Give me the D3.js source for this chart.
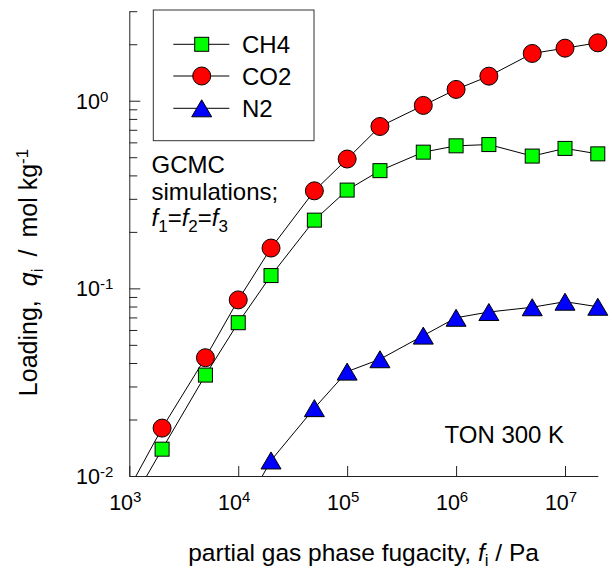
<!DOCTYPE html>
<html>
<head>
<meta charset="utf-8">
<script src="https://cdn.jsdelivr.net/npm/d3@7"></script>
<style>
  body { margin: 0; background: #fff; }
  text { font-family: "Liberation Sans", Arial, sans-serif; fill: #000; }
</style>
</head>
<body>
<div id="container"></div>
<script>
/* CONSTANTS AND GLOBALS */
const width = 612,
    height = 571

// DATA
const fugacity = [2e3, 5e3, 1e4, 2e4, 5e4, 1e5, 2e5, 5e5, 1e6, 2e6, 5e6, 1e7, 2e7]
const ch4 = [0.0139, 0.0345, 0.0656, 0.117, 0.231, 0.334, 0.424, 0.532, 0.575, 0.584, 0.507, 0.557, 0.521]
const co2 = [0.0180, 0.0427, 0.0868, 0.164, 0.331, 0.489, 0.729, 0.944, 1.149, 1.352, 1.786, 1.906, 2.035]
const fugacityN2 = [2e4, 5e4, 1e5, 2e5, 5e5, 1e6, 2e6, 5e6, 1e7, 2e7]
const n2 = [0.0121, 0.0230, 0.0360, 0.0419, 0.0560, 0.0697, 0.0748, 0.0793, 0.0849, 0.0798]
// where each curve leaves the bottom axis
const ch4Start = [1445, 0.01]
const co2Start = [1152, 0.01]
const n2Start = [16640, 0.01]

const xTicks = [1e3, 1e4, 1e5, 1e6, 1e7]
const xTickExp = ["3", "4", "5", "6", "7"]
const yTicks = [0.01, 0.1, 1]
const yTickExp = ["-2", "-1", "0"]
const yMinor = [0.02, 0.03, 0.04, 0.05, 0.06, 0.07, 0.08, 0.09, 0.2, 0.3, 0.4, 0.5, 0.6, 0.7, 0.8, 0.9, 2, 3]
const legendNames = ["CH4", "CO2", "N2"]

//SCALE
const xScale = d3.scaleLog()
    .domain([1e3, 2e7])
    .range([129.3, 597.8])

const yScale = d3.scaleLog()
    .domain([0.01, 3])
    .range([476, 11.2])

//SVG
const svg = d3.select("#container")
    .append("svg")
    .attr("width", width)
    .attr("height", height)

svg.append("clipPath")
    .attr("id", "plot-clip")
    .append("rect")
    .attr("x", xScale.range()[0])
    .attr("y", yScale.range()[1])
    .attr("width", xScale.range()[1] - xScale.range()[0])
    .attr("height", yScale.range()[0] - yScale.range()[1])

// AXES
const xAxis = d3.axisBottom(xScale)
    .tickValues(xTicks)
    .tickSizeInner(-10)
    .tickSizeOuter(0)
    .tickFormat("")

const yAxis = d3.axisLeft(yScale)
    .tickValues(yTicks)
    .tickSizeInner(-11)
    .tickSizeOuter(0)
    .tickFormat("")

const yAxisMinor = d3.axisLeft(yScale)
    .tickValues(yMinor)
    .tickSizeInner(-8)
    .tickSizeOuter(0)
    .tickFormat("")

svg.append("g")
    .attr("class", "axis")
    .attr("transform", "translate(0," + yScale.range()[0] + ")")
    .call(xAxis)

svg.append("g")
    .attr("class", "axis")
    .attr("transform", "translate(" + xScale.range()[0] + ",0)")
    .call(yAxis)

svg.append("g")
    .attr("class", "axis")
    .attr("transform", "translate(" + xScale.range()[0] + ",0)")
    .call(yAxisMinor)
    .select(".domain").remove()

svg.selectAll(".axis path, .axis line")
    .attr("stroke", "#222")
    .attr("stroke-width", 1)

// tick labels as 10^n
const xLab = svg.append("g")
    .selectAll("text")
    .data(xTicks)
    .join("text")
    .attr("x", d => xScale(d) - 4)
    .attr("y", 510)
    .attr("text-anchor", "middle")
    .style("font-size", "21.5px")
    .text("10")
xLab.append("tspan")
    .attr("dy", -8)
    .style("font-size", "15px")
    .text((d, i) => xTickExp[i])

const yLab = svg.append("g")
    .selectAll("text")
    .data(yTicks)
    .join("text")
    .attr("x", 76)
    .attr("y", d => yScale(d) + 8)
    .style("font-size", "21.5px")
    .text("10")
yLab.append("tspan")
    .attr("dy", -7)
    .style("font-size", "15px")
    .text((d, i) => yTickExp[i])

// LINES
const line = d3.line()
    .x(d => xScale(d[0]))
    .y(d => yScale(d[1]))

const series = [
    { name: "CH4", start: ch4Start, pts: fugacity.map((f, i) => [f, ch4[i]]), color: "#00ff00", shape: "square" },
    { name: "CO2", start: co2Start, pts: fugacity.map((f, i) => [f, co2[i]]), color: "#ff0000", shape: "circle" },
    { name: "N2", start: n2Start, pts: fugacityN2.map((f, i) => [f, n2[i]]), color: "#0000ff", shape: "triangle" }
]

svg.append("g")
    .attr("clip-path", "url(#plot-clip)")
    .selectAll("path")
    .data(series)
    .join("path")
    .attr("d", s => line([s.start].concat(s.pts)))
    .attr("fill", "none")
    .attr("stroke", "#000")
    .attr("stroke-width", 1)

// MARKERS
function marker(g, shape, color) {
    if (shape === "square") {
        g.append("rect")
            .attr("x", -7).attr("y", -7)
            .attr("width", 14).attr("height", 14)
    } else if (shape === "circle") {
        g.append("circle").attr("r", 9)
    } else {
        g.append("path").attr("d", "M0,-8.5L10,8.5L-10,8.5Z")
    }
    g.selectAll("*")
        .attr("fill", color)
        .attr("stroke", "#000")
        .attr("stroke-width", 1)
}

series.forEach(s => {
    svg.append("g")
        .selectAll("g")
        .data(s.pts)
        .join("g")
        .attr("transform", d => "translate(" + xScale(d[0]) + "," + yScale(d[1]) + ")")
        .each(function () { marker(d3.select(this), s.shape, s.color) })
})

// LEGEND
svg.append("rect")
    .attr("x", 153.3)
    .attr("y", 10)
    .attr("width", 160.7)
    .attr("height", 130.7)
    .attr("fill", "none")
    .attr("stroke", "#333")
    .attr("stroke-width", 1)

const legendRows = [44.3, 76, 108.3]
series.forEach((s, i) => {
    const row = svg.append("g")
        .attr("transform", "translate(0," + legendRows[i] + ")")
    row.append("line")
        .attr("x1", 173.3).attr("x2", 229.3)
        .attr("stroke", "#000").attr("stroke-width", 1)
    const m = row.append("g").attr("transform", "translate(201.7,0)")
    marker(m, s.shape, s.color)
    row.append("text")
        .attr("x", 242)
        .attr("y", 9)
        .style("font-size", "24px")
        .text(legendNames[i])
})

// LABELS
const note = svg.append("text")
    .attr("x", 151.5)
    .attr("y", 173.3)
    .style("font-size", "24px")
note.append("tspan").text("GCMC")
note.append("tspan").attr("x", 151.5).attr("dy", 26.5).text("simulations;")
note.append("tspan").attr("x", 151.5).attr("dy", 26.5).attr("font-style", "italic").text("f")
note.append("tspan").attr("dy", 6).style("font-size", "17px").text("1")
note.append("tspan").attr("dy", -6).text("=")
note.append("tspan").attr("font-style", "italic").text("f")
note.append("tspan").attr("dy", 6).style("font-size", "17px").text("2")
note.append("tspan").attr("dy", -6).text("=")
note.append("tspan").attr("font-style", "italic").text("f")
note.append("tspan").attr("dy", 6).style("font-size", "17px").text("3")

svg.append("text")
    .attr("x", 444.5)
    .attr("y", 443.3)
    .style("font-size", "24px")
    .text("TON 300 K")

const xTitle = svg.append("text")
    .attr("x", (xScale.range()[0] + xScale.range()[1]) / 2)
    .attr("y", 561)
    .attr("text-anchor", "middle")
    .style("font-size", "24.5px")
xTitle.append("tspan").text("partial gas phase fugacity, ")
xTitle.append("tspan").attr("font-style", "italic").text("f")
xTitle.append("tspan").attr("dy", 5).style("font-size", "17px").text("i")
xTitle.append("tspan").attr("dy", -5).text(" / Pa")

const yTitle = svg.append("text")
    .attr("transform", "rotate(-90)")
    .attr("x", -272.5)
    .attr("y", 37)
    .attr("text-anchor", "middle")
    .style("font-size", "25px")
yTitle.append("tspan").text("Loading,")
yTitle.append("tspan").attr("dx", 14).attr("font-style", "italic").text("q")
yTitle.append("tspan").attr("dy", 6).style("font-size", "17px").text("i")
yTitle.append("tspan").attr("dy", -6).attr("dx", 12).text("/")
yTitle.append("tspan").attr("dx", 12).text("mol kg")
yTitle.append("tspan").attr("dy", -9).style("font-size", "17px").text("-1")
</script>
</body>
</html>
